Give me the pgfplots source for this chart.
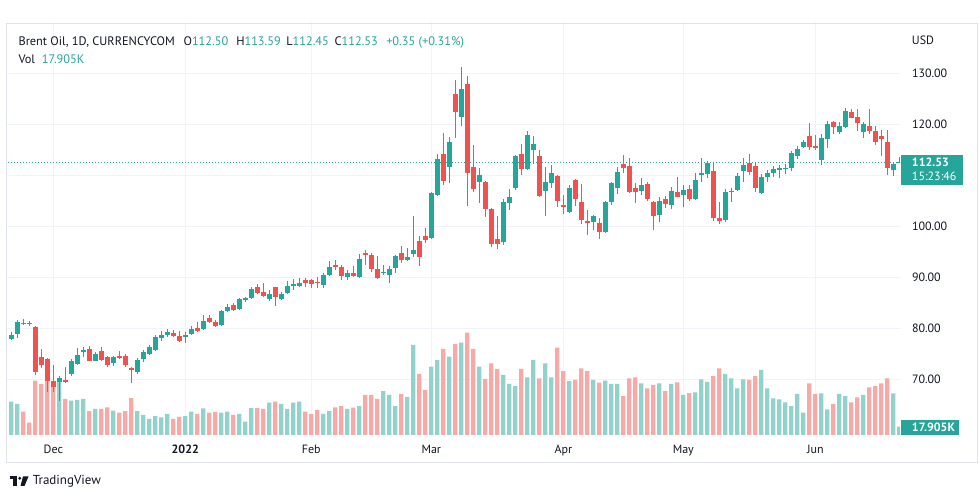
\documentclass[border=0pt]{standalone}
\usepackage{pgfplots}
\pgfplotsset{compat=1.18}
\usepackage{pgfplotstable}
\usepackage{fontspec}
\setmainfont{PT Sans}
\definecolor{up}{HTML}{26A69A}
\definecolor{dn}{HTML}{EF5350}
\definecolor{vup}{HTML}{92D2CC}
\definecolor{vdn}{HTML}{F7A9A7}
\definecolor{txt}{HTML}{131722}
\definecolor{grd}{HTML}{F0F3FA}
\definecolor{frm}{HTML}{E0E3EB}

\pgfplotstableread{
i o h l c v
0 77.9 79.3 77.7 78.7 71.9
1 78.8 81.6 78.1 81.3 67.0
2 81.1 81.8 80.7 80.8 50.3
3 81.1 81.4 80.5 80.9 26.6
4 80.3 80.4 70.8 71.5 117.3
5 74.4 75.9 72.2 72.8 110.2
6 74.0 74.2 67.6 69.7 118.8
7 69.7 72.8 67.6 68.4 108.0
8 69.5 70.6 65.8 70.3 122.5
9 69.9 72.5 69.2 69.5 77.8
10 71.0 73.9 70.6 73.5 74.1
11 73.0 76.1 72.8 74.8 75.6
12 75.3 76.4 74.4 75.7 77.8
13 75.9 76.5 73.5 73.6 51.8
14 73.6 75.4 73.5 75.0 56.2
15 75.6 76.4 73.6 73.8 56.2
16 74.4 74.6 72.5 72.9 59.8
17 73.1 74.6 72.6 74.3 52.5
18 74.6 75.6 73.9 74.2 48.2
19 74.6 75.0 72.4 72.8 51.8
20 72.2 72.5 69.3 71.8 79.9
21 71.5 74.1 71.0 73.8 51.8
22 73.9 75.8 73.4 75.4 43.2
23 75.0 76.8 74.8 76.4 34.6
24 75.7 78.6 75.5 78.2 41.0
25 78.0 79.5 77.6 78.7 38.2
26 78.7 79.9 78.3 79.2 45.4
27 79.1 79.7 78.2 78.5 34.6
28 78.5 79.5 77.3 77.6 38.9
29 78.2 79.2 77.1 78.7 41.0
30 78.9 80.4 78.7 79.9 50.3
31 80.0 81.3 79.2 79.5 45.4
32 79.9 82.6 79.6 81.5 57.7
33 82.1 82.6 81.1 81.3 48.2
34 81.3 81.6 80.3 80.5 49.7
35 80.7 83.5 80.5 83.3 48.2
36 83.4 84.8 83.2 84.1 50.3
37 84.6 84.9 83.3 83.5 43.2
38 83.7 86.0 83.6 85.7 45.4
39 85.5 86.2 85.2 85.9 28.7
40 85.9 88.0 85.7 87.7 58.3
41 88.0 88.6 86.7 86.9 58.3
42 87.1 88.9 86.2 86.4 56.2
43 85.7 87.5 85.4 86.7 69.8
44 88.0 88.1 84.4 86.1 71.9
45 85.7 87.2 85.5 86.7 67.0
46 86.9 89.2 86.8 88.3 56.2
47 88.2 89.6 87.6 88.6 69.8
48 88.3 89.8 88.0 88.8 71.9
49 89.5 89.8 88.0 88.8 50.3
50 89.5 89.6 87.9 88.7 45.4
51 89.1 90.0 87.9 88.8 54.0
52 88.5 90.9 87.9 90.4 45.4
53 90.4 93.1 90.2 92.1 51.8
54 92.4 93.3 91.4 92.0 59.8
55 92.1 92.4 89.4 90.3 62.6
56 90.1 91.4 89.4 90.8 56.2
57 90.8 92.3 90.1 90.3 59.0
58 90.1 94.6 89.9 93.5 62.6
59 94.8 95.3 92.4 94.3 86.4
60 94.4 94.7 91.1 91.6 86.4
61 91.6 94.1 89.6 89.9 77.8
62 90.8 92.4 90.5 91.1 95.0
63 90.4 92.3 88.8 91.6 86.4
64 91.8 94.4 90.9 94.2 62.6
65 94.8 96.1 92.9 93.3 88.6
66 93.4 95.7 93.1 94.0 82.1
67 94.6 102.0 94.0 95.4 194.4
68 97.1 98.1 92.3 93.9 131.8
69 98.1 99.6 96.8 97.3 97.2
70 97.8 106.8 97.6 106.5 147.5
71 106.1 114.2 106.0 113.2 162.0
72 114.2 118.3 108.1 108.9 185.8
73 111.7 117.5 108.4 116.5 169.1
74 125.9 128.7 117.4 122.4 196.6
75 121.5 131.2 119.7 126.9 199.4
76 127.9 129.5 104.0 110.5 221.0
77 111.7 115.9 106.8 107.3 185.8
78 108.7 111.5 104.6 110.1 147.5
79 108.7 108.9 101.9 103.4 121.0
80 103.4 103.5 95.9 96.5 154.9
81 97.5 102.1 95.5 96.5 142.6
82 97.0 105.3 96.3 104.7 129.6
83 104.6 107.3 103.2 105.8 110.2
84 107.6 113.9 107.1 113.7 105.8
85 114.2 116.2 110.0 111.2 142.6
86 111.2 118.7 111.1 117.9 124.6
87 115.0 117.7 112.2 116.1 162.0
88 113.7 114.9 105.8 105.9 122.5
89 107.0 111.7 102.1 108.6 154.9
90 108.5 112.0 107.5 110.4 124.6
91 109.9 110.1 103.8 105.0 188.6
92 104.2 106.1 102.4 103.8 138.2
93 102.9 108.1 102.6 107.5 116.6
94 109.1 109.3 104.0 105.3 118.8
95 104.8 108.2 100.4 101.2 144.1
96 101.0 103.2 98.3 100.6 138.2
97 100.9 102.3 99.2 102.0 118.8
98 100.6 101.6 97.5 98.8 113.0
99 98.8 105.0 98.6 104.8 117.3
100 104.8 108.7 104.1 108.4 110.2
101 107.5 111.7 106.3 110.7 110.2
102 112.2 114.0 110.4 111.5 84.2
103 111.8 113.3 106.5 106.7 122.5
104 107.6 108.4 104.6 106.7 124.6
105 107.0 109.4 106.1 108.1 111.7
106 108.3 108.6 104.9 105.3 100.9
107 104.7 104.9 99.3 102.1 108.0
108 102.2 105.7 100.9 105.0 111.7
109 105.4 106.0 103.6 104.4 95.0
110 104.2 107.8 103.3 107.0 110.2
111 106.8 109.6 105.7 105.8 113.8
112 106.1 108.0 103.8 107.1 86.4
113 107.4 108.0 104.9 105.3 90.7
114 105.3 110.4 105.2 109.1 92.2
115 110.1 113.3 108.7 110.4 120.3
116 110.2 112.9 109.5 112.4 114.5
117 110.8 112.6 101.0 101.6 127.4
118 101.6 104.8 100.5 101.1 144.1
119 101.2 107.4 100.8 106.8 131.8
120 106.7 107.5 104.8 106.9 122.5
121 107.1 110.4 106.9 109.9 100.9
122 110.8 113.3 108.7 112.0 120.3
123 112.5 114.1 110.1 110.6 118.8
124 111.9 112.4 106.8 107.6 127.4
125 106.5 110.3 106.3 109.7 140.4
126 109.7 111.0 108.6 110.5 100.9
127 110.4 111.9 109.6 111.2 79.3
128 111.0 112.0 109.4 111.4 77.1
129 111.2 112.2 110.2 111.5 70.6
130 111.4 114.8 110.9 114.3 62.6
131 113.8 115.7 113.2 115.2 88.6
132 115.6 117.0 115.4 116.6 48.2
133 117.7 120.2 115.0 115.6 111.7
134 115.7 117.9 115.0 115.3 88.6
135 113.0 118.0 112.0 117.3 90.1
136 117.1 120.6 115.4 120.0 55.5
137 120.4 120.6 118.0 119.4 67.0
138 118.4 120.5 118.0 119.7 88.6
139 119.4 123.1 119.2 122.6 84.2
140 122.4 123.0 121.2 121.3 70.6
141 121.4 122.9 118.6 120.2 81.4
142 118.4 120.5 117.4 120.0 86.4
143 119.7 123.0 118.1 118.7 103.0
144 118.7 119.7 116.0 116.6 105.8
145 117.8 118.9 113.8 117.1 111.7
146 116.6 118.9 110.1 111.5 122.5
147 111.0 112.7 109.8 112.2 90.1
148 112.50 113.59 112.45 112.53 17.905
}\data

\pgfplotsset{
  tvaxis/.style={
    at={(5.25pt,47.25pt)}, anchor=south west,
    scale only axis, width=669.75pt, height=309.75pt,
    xmin=-0.717, xmax=148.117,
  },
}

\begin{document}
\begin{tikzpicture}
\path[fill=white] (0,0) rectangle (734.25pt,373.5pt);
% grid + labels
\begin{axis}[tvaxis,
  ymin=59.08, ymax=140.06,
  axis line style={draw=none},
  major tick length=0pt,
  xtick={7,29,50,70,92,112,134},
  xticklabels={Dec,\textbf{2022},Feb,Mar,Apr,May,Jun},
  ytick={70,80,90,100,110,120,130},
  yticklabels={70.00,80.00,90.00,100.00,{},120.00,130.00},
  yticklabel pos=right,
  xticklabel style={anchor=base, inner sep=0pt, yshift=-13.7pt, font=\fontsize{9}{10}\selectfont, text=txt},
  yticklabel style={anchor=west, inner sep=0pt, xshift=8.8pt, font=\fontsize{9}{10}\selectfont, text=txt},
  xmajorgrids, ymajorgrids,
  major grid style={draw=grd, line width=0.75pt},
]
\addplot[draw=none] coordinates {(0,100) (1,100)};
\end{axis}
% volume
\begin{axis}[tvaxis, ymin=0, ymax=892.1, hide axis, ybar, bar width=3.2pt]
\addplot[fill=vup, draw=none, bar shift=0pt,
  restrict expr to domain={\thisrow{c}-\thisrow{o}}{0:1000}]
  table[x=i, y=v]{\data};
\addplot[fill=vdn, draw=none, bar shift=0pt,
  restrict expr to domain={\thisrow{c}-\thisrow{o}}{-1000:-0.00001}]
  table[x=i, y=v]{\data};
\end{axis}
% candles
\begin{axis}[tvaxis, ymin=59.08, ymax=140.06, hide axis]
\addplot[draw=none, mark=none,
  restrict expr to domain={\thisrow{c}-\thisrow{o}}{0:1000},
  error bars/.cd, y dir=plus, y explicit, error mark=none,
  error bar style={draw=up, line width=0.75pt}]
  table[x=i, y=l, y error plus expr={\thisrow{h}-\thisrow{l}}]{\data};
\addplot[draw=none, mark=none,
  restrict expr to domain={\thisrow{c}-\thisrow{o}}{-1000:-0.00001},
  error bars/.cd, y dir=plus, y explicit, error mark=none,
  error bar style={draw=dn, line width=0.75pt}]
  table[x=i, y=l, y error plus expr={\thisrow{h}-\thisrow{l}}]{\data};
\addplot[draw=none, mark=none,
  restrict expr to domain={\thisrow{c}-\thisrow{o}}{0:1000},
  error bars/.cd, y dir=plus, y explicit, error mark=none,
  error bar style={draw=up, line width=3.3pt}]
  table[x=i, y=o, y error plus expr={\thisrow{c}-\thisrow{o}}]{\data};
\addplot[draw=none, mark=none,
  restrict expr to domain={\thisrow{c}-\thisrow{o}}{-1000:-0.00001},
  error bars/.cd, y dir=plus, y explicit, error mark=none,
  error bar style={draw=dn, line width=3.3pt}]
  table[x=i, y=c, y error plus expr={\thisrow{o}-\thisrow{c}}]{\data};
\addplot[up, line width=0.75pt, dash pattern=on 0.75pt off 1.5pt] coordinates {(-1,112.53) (149,112.53)};
\end{axis}

\begin{scope}[x=0.75pt, y=-0.75pt, shift={(0,373.5pt)}]
  \draw[frm, line width=0.75pt] (6.5,24) rectangle (977,463);
  % header
  \begin{scope}[every node/.style={anchor=base west, inner sep=0pt, text=txt, font=\fontsize{9.25}{11}\selectfont}]
    \node at (18.3,45.5) {Brent Oil, 1D, CURRENCYCOM};
    \node at (183.3,45.5) {O\textcolor{up}{112.50}};
    \node at (236,45.5) {H\textcolor{up}{113.59}};
    \node at (286,45.5) {L\textcolor{up}{112.45}};
    \node at (334.3,45.5) {C\textcolor{up}{112.53}};
    \node at (386,45.5) {\textcolor{up}{+0.35 (+0.31\%)}};
    \node at (18.3,64) {Vol};
    \node at (41.7,64) {\textcolor{up}{17.905K}};
  \end{scope}
  \node[anchor=base west, inner sep=0pt, text=txt, font=\fontsize{9}{10}\selectfont] at (911.7,45) {USD};
  % last price label
  \fill[up] (900.7,155) rectangle (963.3,185.5);
  \node[anchor=base west, inner sep=0pt, text=white, font=\bfseries\fontsize{9}{10}\selectfont] at (911.7,166.7) {112.53};
  \node[anchor=base west, inner sep=0pt, text=white, font=\fontsize{9}{10}\selectfont] at (911.7,180.3) {15:23:46};
  % volume label
  \fill[up] (900.7,420.5) rectangle (959,435);
  \node[anchor=base west, inner sep=0pt, text=white, font=\bfseries\fontsize{9}{10}\selectfont] at (911.7,431.7) {17.905K};
  % TradingView logo
  \fill[txt] (9.5,476.5) rectangle (17,479.5);
  \fill[txt] (13,476.5) rectangle (16.5,486);
  \fill[txt] (19.8,478.3) circle (1.6);
  \fill[txt] (23,476.5) -- (28.5,476.5) -- (24.5,486) -- (20.5,486) -- cycle;
  \node[anchor=base west, inner sep=0pt, text=txt, font=\fontsize{9.75}{11}\selectfont] at (32.5,485) {TradingView};
\end{scope}
\end{tikzpicture}
\end{document}
